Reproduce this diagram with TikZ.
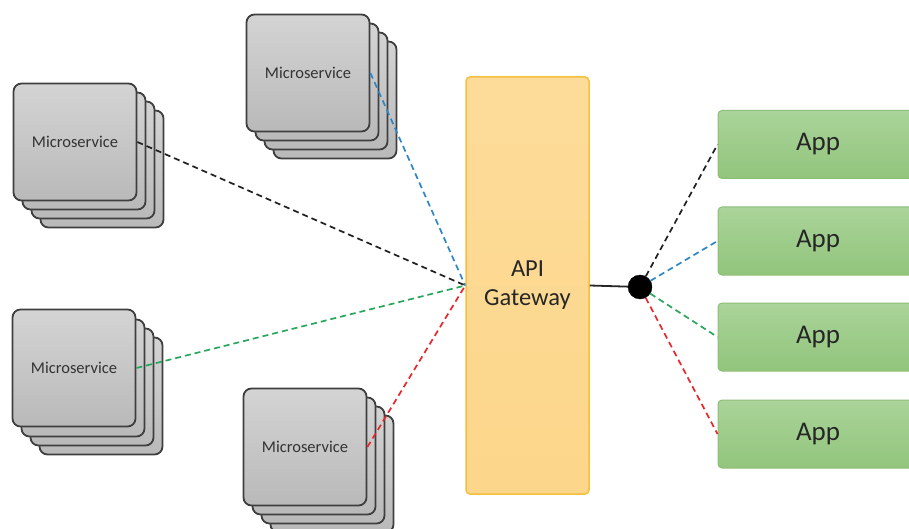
\documentclass[tikz,border=0pt]{standalone}
\usepackage{fontspec}
\setmainfont{Carlito}
\definecolor{msborder}{HTML}{3F3F3F}
\definecolor{mstop}{HTML}{D4D4D4}
\definecolor{msbot}{HTML}{B9B9B9}
\definecolor{gwfill}{HTML}{FCD68A}
\definecolor{gwtop}{HTML}{FDDC9A}
\definecolor{gwborder}{HTML}{F4C03E}
\definecolor{apptop}{HTML}{AAD49A}
\definecolor{appbot}{HTML}{92C57C}
\definecolor{appborder}{HTML}{8DBF78}
\definecolor{lblue}{HTML}{2E86C8}
\definecolor{lgreen}{HTML}{2AA65C}
\definecolor{lred}{HTML}{E8282C}
\definecolor{lblack}{HTML}{202020}
\tikzset{
  msbox/.style={draw=msborder, line width=1.8pt, rounded corners=8pt,
    top color=mstop, bottom color=msbot, minimum width=123pt, minimum height=117pt,
    inner sep=0pt, font=\fontsize{16.5}{20}\selectfont, text=black!80},
  gwbox/.style={draw=gwborder, line width=1.5pt, rounded corners=4pt,
    top color=gwtop, bottom color=gwfill, minimum width=123pt, minimum height=417pt,
    inner sep=0pt, align=center, font=\fontsize{24.5}{29}\selectfont, text=black!85},
  appbox/.style={draw=appborder, line width=1pt, rounded corners=4pt,
    top color=apptop, bottom color=appbot, minimum width=200pt, minimum height=68pt,
    inner sep=0pt, font=\fontsize{27}{32}\selectfont, text=black!85},
  link/.style={line width=1.7pt, dash pattern=on 6pt off 4pt},
  hubdot/.style={circle, fill=black, draw=black, minimum size=24pt, inner sep=0pt}
}
\begin{document}
\begin{tikzpicture}[x=1pt,y=-1pt]
\useasboundingbox (0,0) rectangle (909,529);
% top stack
\node[msbox] (t3) at (335,100) {};
\node[msbox] (t2) at (326,91) {};
\node[msbox] (t1) at (317,82) {};
\node[msbox] (ms1) at (308,73) {Microservice};
% left top stack
\node[msbox] (l3) at (102,169) {};
\node[msbox] (l2) at (93,160) {};
\node[msbox] (l1) at (84,151) {};
\node[msbox] (ms2) at (75,142) {Microservice};
% left bottom stack
\node[msbox] (b3) at (101,396) {};
\node[msbox] (b2) at (92,387) {};
\node[msbox] (b1) at (83,378) {};
\node[msbox] (ms3) at (74,368) {Microservice};
% bottom stack
\node[msbox] (c3) at (332,474) {};
\node[msbox] (c2) at (323,465) {};
\node[msbox] (c1) at (314,456) {};
\node[msbox] (ms4) at (305,447) {Microservice};
% gateway
\node[gwbox] (gw) at (527.5,285.5) {API\\Gateway};
% hub
\node[hubdot] (hub) at (640,287) {};
% apps
\node[appbox] (a1) at (818,144.5) {App};
\node[appbox] (a2) at (818,241) {App};
\node[appbox] (a3) at (818,337) {App};
\node[appbox] (a4) at (818,434) {App};
% connectors
\draw[link, lblue] (ms1.east) -- (gw.west);
\draw[link, lblack] (ms2.east) -- (gw.west);
\draw[link, lgreen] (ms3.east) -- (gw.west);
\draw[link, lred] (ms4.east) -- (gw.west);
\draw[line width=1.8pt, black!85] (gw.east) -- (hub);
\draw[link, lblack] (hub) -- (a1.west);
\draw[link, lblue] (hub) -- (a2.west);
\draw[link, lgreen] (hub) -- (a3.west);
\draw[link, lred] (hub) -- (a4.west);
\end{tikzpicture}
\end{document}
